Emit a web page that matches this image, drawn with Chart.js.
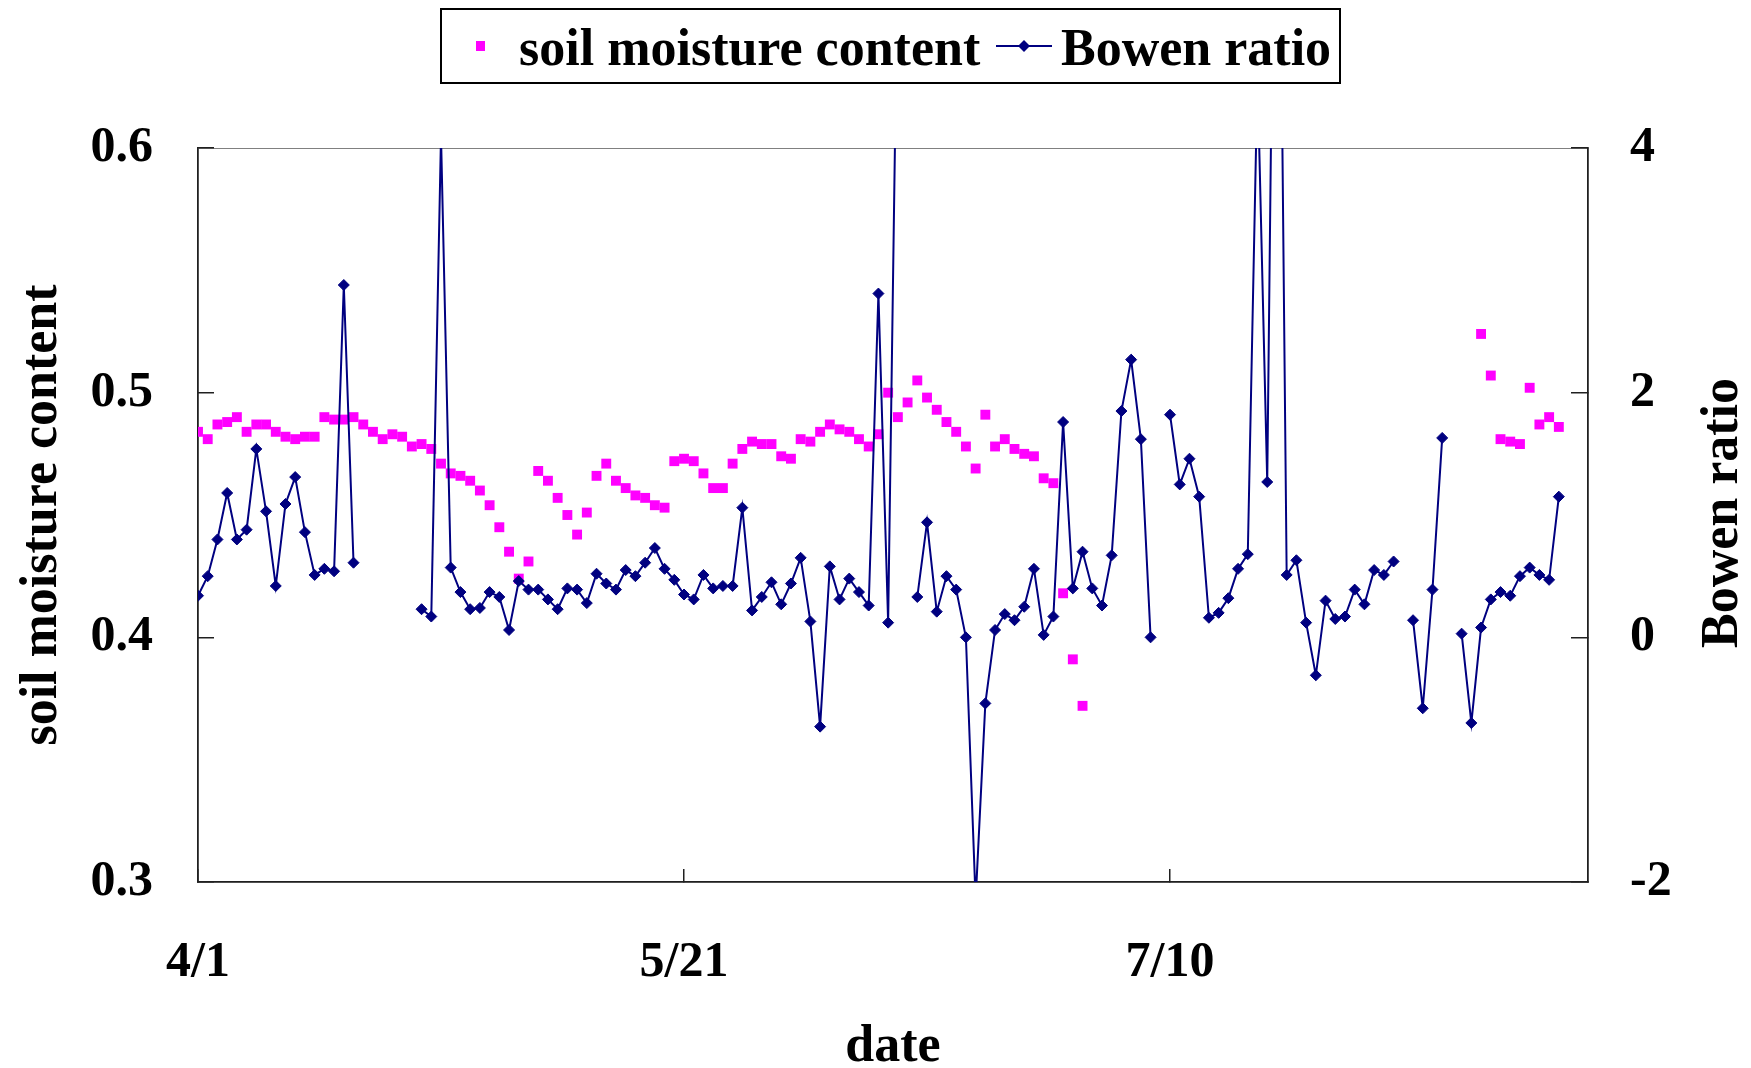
<!DOCTYPE html>
<html>
<head>
<meta charset="utf-8">
<script src="https://cdn.jsdelivr.net/npm/chart.js@4.4.1/dist/chart.umd.min.js"></script>
<style>
  html, body { margin: 0; padding: 0; background: #fff; }
  #wrap { width: 1751px; height: 1068px; position: relative; }
</style>
</head>
<body>
<div id="wrap"><canvas id="soilBowenChart"></canvas></div>
<script>
// x = days after 4/1
const tickDays = [0, 50, 100];
const tickLabels = ['4/1', '5/21', '7/10'];

// soil moisture, 4/1 .. 6/30 (days 0-91)
const soilSpring = [
  0.484, 0.481, 0.487, 0.488, 0.490, 0.484, 0.487, 0.487, 0.484, 0.482,
  0.481, 0.482, 0.482, 0.490, 0.489, 0.489, 0.490, 0.487, 0.484, 0.481,
  0.483, 0.482, 0.478, 0.479, 0.477, 0.471, 0.467, 0.466, 0.464, 0.460,
  0.454, 0.445, 0.435, 0.424, 0.431, 0.468, 0.464, 0.457, 0.450, 0.442,
  0.451, 0.466, 0.471, 0.464, 0.461, 0.458, 0.457, 0.454, 0.453, 0.472,
  0.473, 0.472, 0.467, 0.461, 0.461, 0.471, 0.477, 0.480, 0.479, 0.479,
  0.474, 0.473, 0.481, 0.480, 0.484, 0.487, 0.485, 0.484, 0.481, 0.478,
  0.483, 0.500, 0.490, 0.496, 0.505, 0.498, 0.493, 0.488, 0.484, 0.478,
  0.469, 0.491, 0.478, 0.481, 0.477, 0.475, 0.474, 0.465, 0.463, 0.418,
  0.391, 0.372
];
const soilSpringStart = 0;
// soil moisture, 8/11 .. 8/19 (days 132-140)
const soilLate = [0.524, 0.507, 0.481, 0.480, 0.479, 0.502, 0.487, 0.490, 0.486];
const soilLateStart = 132;

// Bowen ratio, days 0-140 (null = no data)
const bowenRatio = [
  0.34, 0.50, 0.80, 1.18, 0.80, 0.88, 1.54, 1.03, 0.42, 1.09,
  1.31, 0.86, 0.51, 0.56, 0.54, 2.88, 0.61, null, null, null,
  null, null, null, 0.23, 0.17, 4.10, 0.57, 0.37, 0.23, 0.24,
  0.37, 0.33, 0.06, 0.46, 0.39, 0.39, 0.31, 0.23, 0.40, 0.39,
  0.28, 0.52, 0.44, 0.39, 0.55, 0.50, 0.61, 0.73, 0.56, 0.47,
  0.35, 0.31, 0.51, 0.40, 0.42, 0.42, 1.06, 0.22, 0.33, 0.45,
  0.27, 0.44, 0.65, 0.13, -0.73, 0.58, 0.31, 0.48, 0.37, 0.26,
  2.81, 0.12, 5.70, null, 0.33, 0.94, 0.21, 0.50, 0.39, 0.00,
  -2.15, -0.54, 0.06, 0.19, 0.14, 0.25, 0.56, 0.02, 0.17, 1.76,
  0.40, 0.70, 0.40, 0.26, 0.67, 1.85, 2.27, 1.62, 0.00, null,
  1.82, 1.25, 1.46, 1.15, 0.16, 0.20, 0.32, 0.56, 0.68, 4.60,
  1.27, 8.50, 0.51, 0.63, 0.12, -0.31, 0.30, 0.15, 0.17, 0.39,
  0.27, 0.55, 0.51, 0.62, null, 0.14, -0.58, 0.39, 1.63, null,
  0.03, -0.70, 0.08, 0.31, 0.37, 0.34, 0.50, 0.57, 0.51, 0.47,
  1.15
];

const FAMILY = "'Liberation Serif', 'Times New Roman', serif";
const FONT = { family: FAMILY, size: 50, weight: 'bold' };
const TITLE_SIZE = 52;
const TITLE_FONT = { family: FAMILY, size: TITLE_SIZE, weight: 'bold' };
const PINK = '#FF00FF';
const NAVY = '#000080';
const AXIS = '#202020';

Chart.defaults.font.family = FAMILY;
Chart.defaults.color = '#000';

const toPoints = (arr, start) => arr.map((v, i) => ({ x: start + i, y: v }));
const soilPoints = toPoints(soilSpring, soilSpringStart).concat(toPoints(soilLate, soilLateStart));
const bowenPoints = toPoints(bowenRatio, 0);

// legend box, plot frame and right title (Excel style)
const excelBits = {
  id: 'excelBits',
  beforeDraw(chart) {
    const { ctx, chartArea: a } = chart;
    ctx.save();
    ctx.strokeStyle = '#808080';
    ctx.lineWidth = 1;
    ctx.strokeRect(a.left + 0.5, a.top + 0.5, a.right - a.left, a.bottom - a.top);
    ctx.restore();
  },
  afterDraw(chart) {
    const { ctx, chartArea: a } = chart;
    ctx.save();
    ctx.font = `bold ${TITLE_SIZE}px ${FAMILY}`;
    ctx.fillStyle = '#000';

    // right axis title, reads bottom to top
    ctx.translate(1724, (a.top + a.bottom) / 2 - 2);
    ctx.rotate(-Math.PI / 2);
    ctx.textAlign = 'center';
    ctx.textBaseline = 'middle';
    ctx.fillText('Bowen ratio', 0, 0);
    ctx.restore();

    // legend
    ctx.save();
    ctx.font = `bold ${TITLE_SIZE}px ${FAMILY}`;
    const box = { left: 441, top: 9, right: 1340, bottom: 83 };
    ctx.strokeStyle = '#000';
    ctx.lineWidth = 2;
    ctx.strokeRect(box.left, box.top, box.right - box.left, box.bottom - box.top);
    const base = 65;
    const midY = 46;
    const ds = chart.data.datasets;
    const soilDs = ds.find(d => d.yAxisID === 'y');
    const bowenDs = ds.find(d => d.yAxisID === 'y1');
    ctx.fillStyle = PINK;
    ctx.fillRect(476, midY - 5, 9, 10);
    ctx.fillStyle = '#000';
    ctx.textBaseline = 'alphabetic';
    ctx.textAlign = 'left';
    ctx.fillText(soilDs.label, 519, base);
    ctx.strokeStyle = NAVY;
    ctx.lineWidth = 2;
    ctx.beginPath();
    ctx.moveTo(996, midY);
    ctx.lineTo(1052, midY);
    ctx.stroke();
    ctx.fillStyle = NAVY;
    ctx.beginPath();
    ctx.moveTo(1024, midY - 6);
    ctx.lineTo(1030, midY);
    ctx.lineTo(1024, midY + 6);
    ctx.lineTo(1018, midY);
    ctx.closePath();
    ctx.fill();
    ctx.fillStyle = '#000';
    ctx.fillText(bowenDs.label, 1061, base);
    ctx.restore();
  }
};

new Chart(document.getElementById('soilBowenChart'), {
  type: 'line',
  data: {
    datasets: [
      {
        label: 'Bowen ratio',
        data: bowenPoints,
        yAxisID: 'y1',
        order: 0,
        borderColor: NAVY,
        borderWidth: 2,
        tension: 0,
        spanGaps: false,
        pointStyle: 'rectRot',
        pointRadius: 5.5,
        pointBackgroundColor: NAVY,
        pointBorderColor: NAVY,
        pointBorderWidth: 1
      },
      {
        label: 'soil moisture content',
        data: soilPoints,
        yAxisID: 'y',
        order: 1,
        showLine: false,
        pointStyle: 'rect',
        pointRadius: 7,
        pointBackgroundColor: PINK,
        pointBorderWidth: 0
      }
    ]
  },
  options: {
    responsive: true,
    maintainAspectRatio: false,
    animation: false,
    devicePixelRatio: 1,
    layout: { padding: { top: 148, left: 0, right: 0, bottom: 0 } },
    plugins: {
      legend: { display: false },
      tooltip: { enabled: false }
    },
    scales: {
      x: {
        type: 'linear',
        position: 'bottom',
        min: 0,
        max: 143,
        afterBuildTicks: (scale) => { scale.ticks = tickDays.map(v => ({ value: v })); },
        afterFit: (scale) => { scale.height = 186; },
        ticks: {
          callback: (v) => tickLabels[tickDays.indexOf(v)],
          font: FONT,
          color: '#000',
          padding: 64,
          maxRotation: 0,
          autoSkip: false
        },
        grid: { drawOnChartArea: false, tickLength: -13, color: AXIS, lineWidth: 1.5 },
        border: { color: AXIS, width: 1.5 },
        title: { display: true, text: 'date', font: { ...TITLE_FONT, lineHeight: 0.8 }, color: '#000', padding: { top: 0, bottom: 0 } }
      },
      y: {
        position: 'left',
        min: 0.3,
        max: 0.6,
        afterFit: (scale) => { scale.width = 198; },
        ticks: {
          stepSize: 0.1,
          callback: (v) => v.toFixed(1),
          font: FONT,
          color: '#000',
          padding: 61
        },
        grid: { drawOnChartArea: false, tickLength: -16, color: AXIS, lineWidth: 1.5 },
        border: { color: AXIS, width: 1.5 },
        title: { display: true, text: 'soil moisture content', font: TITLE_FONT, color: '#000', padding: { top: 11, bottom: 0 } }
      },
      y1: {
        position: 'right',
        min: -2,
        max: 4,
        afterFit: (scale) => { scale.width = 163; },
        ticks: {
          stepSize: 2,
          font: FONT,
          color: '#000',
          padding: 59
        },
        grid: { drawOnChartArea: false, tickLength: -17, color: AXIS, lineWidth: 1.5 },
        border: { color: AXIS, width: 1.5 }
      }
    }
  },
  plugins: [excelBits]
});
</script>
</body>
</html>
